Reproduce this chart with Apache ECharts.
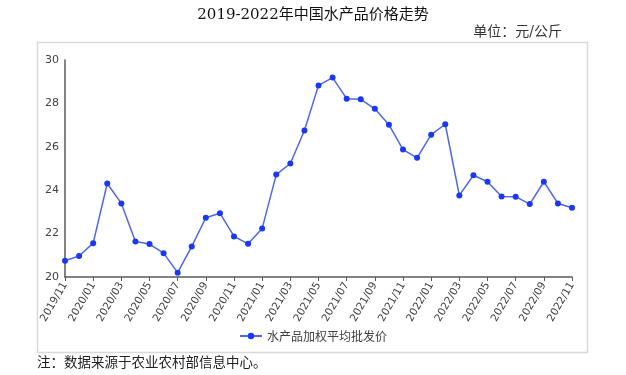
<!DOCTYPE html>
<html><head><meta charset="utf-8">
<script src="https://cdn.jsdelivr.net/npm/echarts@6/dist/echarts.min.js"></script>
<style>html,body{margin:0;padding:0;background:#fff}#c{width:626px;height:375px}</style>
</head><body><div id="c"></div>
<script>
const categories = ["2019/11","2019/12","2020/01","2020/02","2020/03","2020/04","2020/05","2020/06","2020/07","2020/08","2020/09","2020/10","2020/11","2020/12","2021/01","2021/02","2021/03","2021/04","2021/05","2021/06","2021/07","2021/08","2021/09","2021/10","2021/11","2021/12","2022/01","2022/02","2022/03","2022/04","2022/05","2022/06","2022/07","2022/08","2022/09","2022/10","2022/11"];
const priceValues = [20.75,20.97,21.56,24.31,23.39,21.64,21.52,21.10,20.20,21.41,22.73,22.94,21.87,21.53,22.24,24.72,25.23,26.75,28.83,29.19,28.22,28.19,27.75,27.02,25.87,25.49,26.56,27.04,23.76,24.69,24.39,23.71,23.70,23.36,24.39,23.39,23.19];
const seriesName = "水产品加权平均批发价";
const titleText = "2019-2022年中国水产品价格走势";
const unitText = "单位：元/公斤";
const noteText = "注：数据来源于农业农村部信息中心。";

const chart = echarts.init(document.getElementById('c'));
chart.setOption({
  animation: false,
  backgroundColor: '#fff',
  graphic: [
    {type:'rect', shape:{x:37.5,y:42.5,width:550,height:310}, style:{fill:'none', stroke:'#d9d9d9', lineWidth:1.5}, z:-1},
    {type:'text', left:'center', top:8, style:{text:titleText, font:'15px "DejaVu Serif","Noto Sans CJK SC"', fill:'#111'}},
    {type:'text', right:64, top:25, style:{text:unitText, font:'14px "DejaVu Serif","Noto Sans CJK SC"', fill:'#333'}},
    {type:'text', left:37, top:357, style:{text:noteText, font:'13.5px "DejaVu Serif","Noto Sans CJK SC"', fill:'#222'}}
  ],
  legend: {
    data:[seriesName], bottom:28, left:'center', itemWidth:22, itemHeight:8, itemGap:4,
    textStyle:{fontSize:12, color:'#404040', fontFamily:'"Noto Sans CJK SC"'}
  },
  grid: {left:65, right:54, top:60, bottom:98},
  xAxis: {
    type:'category', data:categories, boundaryGap:false,
    axisLine:{lineStyle:{color:'#595959', width:1.5}},
    axisTick:{interval:1, length:4, lineStyle:{color:'#595959'}},
    axisLabel:{interval:1, rotate:60, fontSize:10.5, color:'#404040', margin:6, fontFamily:'"DejaVu Sans"'}
  },
  yAxis: {
    type:'value', min:20, max:30, interval:2,
    axisLine:{show:true, lineStyle:{color:'#595959', width:1.5}},
    axisTick:{show:false}, splitLine:{show:false},
    axisLabel:{fontSize:11, color:'#404040', margin:6, fontFamily:'"DejaVu Sans"'}
  },
  series: [{
    name:seriesName, type:'line', data:priceValues,
    symbol:'circle', symbolSize:6,
    lineStyle:{color:'#4d66ee', width:1.5},
    itemStyle:{color:'#1a38f3'}
  }]
});
</script></body></html>
